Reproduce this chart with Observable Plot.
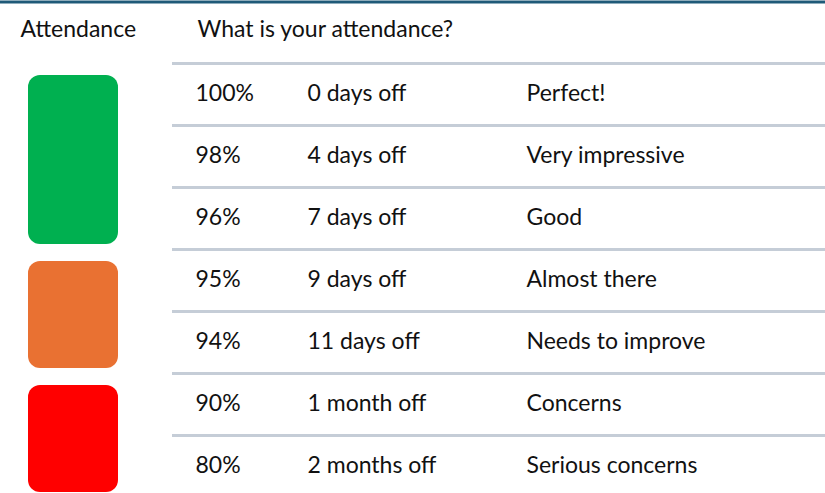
<!DOCTYPE html>
<html>
<head>
<meta charset="utf-8">
<script src="https://cdn.jsdelivr.net/npm/d3@7"></script>
<script src="https://cdn.jsdelivr.net/npm/@observablehq/plot@0.6"></script>
<style>
  html, body { margin: 0; padding: 0; background: #fff; }
  #chart svg { display: block; }
</style>
</head>
<body>
<div id="chart"></div>
<script>
// ---- data ----
const headerLeft = "Attendance";
const headerRight = "What is your attendance?";
const percents = ["100%", "98%", "96%", "95%", "94%", "90%", "80%"];
const daysOff = ["0 days off", "4 days off", "7 days off", "9 days off", "11 days off", "1 month off", "2 months off"];
const verdicts = ["Perfect!", "Very impressive", "Good", "Almost there", "Needs to improve", "Concerns", "Serious concerns"];
const bandNames = ["Good", "Warning", "Poor"];
const bandRowCounts = [3, 2, 2];

// ---- derived tables ----
const rows = percents.map((p, i) => ({i, pct: p, days: daysOff[i], verdict: verdicts[i]}));
let start = 0;
const bands = bandNames.map((name, k) => {
  const b = {name, from: start, to: start + bandRowCounts[k]};
  start += bandRowCounts[k];
  return b;
});

// ---- layout ----
const col = {swatchL: 28, swatchR: 118, ruleL: 172, pct: 195, days: 307, verdict: 526, header: 20, question: 197};
const font = "'Lato', 'Open Sans', sans-serif";
const fs = 23;

const chart = Plot.plot({
  width: 825,
  height: 493,
  margin: 0,
  style: {fontFamily: font, background: "#fff"},
  x: {domain: [0, 825], range: [0, 825], axis: null},
  y: {domain: [-1, 7], range: [1, 497], axis: null},
  color: {domain: bandNames, range: ["#00b050", "#e97132", "#ff0000"]},
  marks: [
    // top border
    Plot.ruleY([-1], {x1: 0, x2: 825, stroke: "#1f5a78", strokeWidth: 3, dy: 0.5}),
    // row separator lines
    Plot.ruleY(rows, {y: "i", x1: col.ruleL, x2: 825, stroke: "#c5cdd7", strokeWidth: 3}),
    // colour swatches
    Plot.rect(bands, {
      x1: col.swatchL, x2: col.swatchR,
      y1: "from", y2: "to",
      fill: "name", rx: 12,
      insetTop: 12, insetBottom: 5
    }),
    // header
    Plot.text([headerLeft], {x: col.header, y: -0.5, text: d => d, textAnchor: "start", fontSize: fs, dy: -3, fill: "#111"}),
    Plot.text([headerRight], {x: col.question, y: -0.5, text: d => d, textAnchor: "start", fontSize: fs, dy: -3, fill: "#111"}),
    // row texts
    Plot.text(rows, {x: col.pct, y: d => d.i + 0.5, text: "pct", textAnchor: "start", fontSize: fs, dy: -1, fill: "#111"}),
    Plot.text(rows, {x: col.days, y: d => d.i + 0.5, text: "days", textAnchor: "start", fontSize: fs, dy: -1, fill: "#111"}),
    Plot.text(rows, {x: col.verdict, y: d => d.i + 0.5, text: "verdict", textAnchor: "start", fontSize: fs, dy: -1, fill: "#111"})
  ]
});
document.getElementById("chart").appendChild(chart);
</script>
</body>
</html>
